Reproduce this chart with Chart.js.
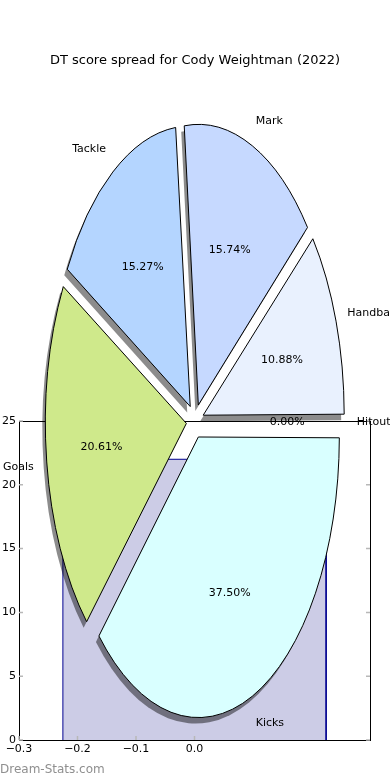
<!DOCTYPE html>
<html lang="en">
<head>
<meta charset="UTF-8">
<title>DT score spread for Cody Weightman (2022)</title>
<script src="https://cdn.jsdelivr.net/npm/chart.js"></script>
<style>
  body { margin: 0; background: #fff; }
  #wrap { position: relative; width: 390px; height: 780px; }
  #wrap canvas { position: absolute; left: 0; top: 0; }
  #pieChart { pointer-events: none; }
  .mark { position: absolute; left: 0; top: 762px; font: 12px "DejaVu Sans", sans-serif; color: #8f8f8f; }
</style>
</head>
<body>
<div id="wrap">
  <canvas id="histChart" width="390" height="780"></canvas>
  <canvas id="pieChart" width="390" height="780"></canvas>
  <div class="mark">Dream-Stats.com</div>
</div>
<script>
// pie slices, clockwise from 3 o'clock
const sliceLabels = ['Hitout', 'Kicks', 'Goals', 'Tackle', 'Mark', 'Handball'];
const slicePercents = [0, 37.5, 20.61, 15.27, 15.74, 10.88];

// background histogram
const histEdges = [-0.225, 0.225];
const histHeights = [22];
const markerX = [-0.2];
const markerTop = [25];

const xTickValues = [-0.3, -0.2, -0.1, 0.0];
const yTickValues = [0, 5, 10, 15, 20, 25];
const chartTitle = 'DT score spread for Cody Weightman (2022)';

// looks
const sliceColors = ['#ffd9d9', '#d9ffff', '#cfe98b', '#b4d5ff', '#c6d9ff', '#e9f1fe'];
const R = 141;        // horizontal pie radius
const STRETCH = 1.99; // pie is drawn on a non-square axes
const EXPLODE = 8.7;  // px

Chart.defaults.font.family = '"DejaVu Sans", sans-serif';
Chart.defaults.font.size = 11;
Chart.defaults.color = '#000';

const fmt = v => (v < -1e-9 ? '\u2212' : '') + Math.abs(v).toFixed(1);

// step outline of the histogram
const histPoints = [{ x: histEdges[0], y: 0 }];
histHeights.forEach((h, i) => {
  histPoints.push({ x: histEdges[i], y: h });
  histPoints.push({ x: histEdges[i + 1], y: h });
});
histPoints.push({ x: histEdges[histEdges.length - 1], y: 0 });

const markerPoints = [];
markerX.forEach((x, i) => {
  markerPoints.push({ x: x, y: 0 }, { x: x, y: markerTop[i] });
});

const innerTicks = {
  id: 'innerTicks',
  afterDatasetsDraw(chart) {
    const { ctx, chartArea: a, scales: { x, y } } = chart;
    ctx.save();
    ctx.strokeStyle = '#b8b8b8';
    ctx.lineWidth = 1.5;
    ctx.beginPath();
    xTickValues.forEach(v => {
      const px = x.getPixelForValue(v);
      ctx.moveTo(px, a.bottom);
      ctx.lineTo(px, a.bottom - 4);
    });
    yTickValues.forEach(v => {
      const py = y.getPixelForValue(v);
      ctx.moveTo(a.left, py); ctx.lineTo(a.left + 4, py);
      ctx.moveTo(a.right, py); ctx.lineTo(a.right - 4, py);
    });
    ctx.stroke();
    ctx.restore();
  }
};

new Chart(document.getElementById('histChart'), {
  type: 'line',
  data: {
    datasets: [{
      data: histPoints,
      borderColor: '#000090',
      backgroundColor: '#ccccE6',
      borderWidth: 1,
      fill: 'origin',
      pointRadius: 0,
      tension: 0
    }, {
      data: markerPoints,
      borderColor: '#aaaaaa',
      borderDash: [1, 2],
      borderWidth: 1,
      pointRadius: 0,
      fill: false
    }]
  },
  options: {
    responsive: false,
    animation: false,
    events: [],
    layout: { padding: { top: 421, right: 20, left: 0, bottom: 0 } },
    plugins: { legend: { display: false }, tooltip: { enabled: false } },
    scales: {
      x: {
        type: 'linear', position: 'bottom', min: -0.3, max: 0.3,
        afterBuildTicks: s => { s.ticks = xTickValues.map(v => ({ value: v })); },
        afterFit: s => { s.height = 40; },
        grid: { display: false, drawTicks: false },
        border: { color: '#000', width: 1 },
        ticks: { padding: 3, callback: v => fmt(v), maxRotation: 0 }
      },
      y: {
        type: 'linear', position: 'left', min: 0, max: 25,
        afterBuildTicks: s => { s.ticks = yTickValues.map(v => ({ value: v })); },
        afterFit: s => { s.width = 19; },
        grid: { display: false, drawTicks: false },
        border: { color: '#000', width: 1 },
        ticks: { padding: 3 }
      },
      xTop: {
        axis: 'x', type: 'linear', position: 'top', min: -0.3, max: 0.3,
        afterFit: s => { s.height = 0; },
        grid: { display: false, drawTicks: false },
        border: { color: '#000', width: 1 },
        ticks: { display: false }
      },
      yRight: {
        axis: 'y', type: 'linear', position: 'right', min: 0, max: 25,
        afterFit: s => { s.width = 0; },
        grid: { display: false, drawTicks: false },
        border: { color: '#000', width: 1 },
        ticks: { display: false }
      }
    }
  },
  plugins: [innerTicks]
});

// stretch the pie vertically, add shadows, then write the labels
const stretchPie = {
  id: 'stretchPie',
  beforeDatasetsDraw(chart) {
    const ctx = chart.ctx;
    const arcs = chart.getDatasetMeta(0).data;
    const cx = arcs[0].x, cy = arcs[0].y;
    // chart.js grows small exploded slices a little; undo that
    arcs.forEach(a => {
      const fix = 1 - Math.sin(Math.min(Math.PI, a.circumference || 0));
      a.outerRadius = R - EXPLODE * fix;
    });
    ctx.save();
    ctx.translate(cx, cy);
    ctx.scale(1, STRETCH);
    ctx.translate(-cx, -cy);
    ctx.shadowColor = 'rgba(0,0,0,0.45)';
    ctx.shadowOffsetX = -3;
    ctx.shadowOffsetY = 6;
    // outlines: even width, no shadow
    const stroke = ctx.stroke;
    ctx.stroke = function () {
      this.save();
      this.setTransform(1, 0, 0, 1, 0, 0);
      this.shadowColor = 'rgba(0,0,0,0)';
      stroke.apply(this, arguments);
      this.restore();
    };
  },
  afterDatasetsDraw(chart) {
    const ctx = chart.ctx;
    delete ctx.stroke;
    ctx.restore();

    const arcs = chart.getDatasetMeta(0).data;
    ctx.save();
    ctx.fillStyle = '#000';
    ctx.font = '11px "DejaVu Sans", sans-serif';
    ctx.textBaseline = 'middle';
    arcs.forEach((a, i) => {
      const mid = (a.startAngle + a.endAngle) / 2;
      const c = Math.cos(mid), s = Math.sin(mid);
      const lr = EXPLODE + 1.1 * R, pr = EXPLODE + 0.6 * R;
      const nudge = c > 0 ? -2 : 1;
      ctx.textAlign = c > 0 ? 'left' : 'right';
      ctx.fillText(sliceLabels[i], a.x + lr * c + nudge, a.y + STRETCH * lr * s + 1);
      ctx.textAlign = 'center';
      ctx.fillText(slicePercents[i].toFixed(2) + '%', a.x + pr * c - 1, a.y + STRETCH * pr * s + 1);
    });
    ctx.font = '13px "DejaVu Sans", sans-serif';
    ctx.textAlign = 'center';
    ctx.fillText(chartTitle, 195, 61);
    ctx.restore();
  }
};

new Chart(document.getElementById('pieChart'), {
  type: 'pie',
  data: {
    labels: sliceLabels,
    datasets: [{
      data: slicePercents,
      backgroundColor: sliceColors,
      borderColor: '#000',
      borderWidth: 1,
      offset: EXPLODE * 4,
      hoverOffset: EXPLODE * 4
    }]
  },
  options: {
    responsive: false,
    animation: false,
    events: [],
    rotation: 90,
    radius: R,
    layout: { padding: { top: 62, bottom: 0, left: 0, right: 0 } },
    plugins: { legend: { display: false }, tooltip: { enabled: false } }
  },
  plugins: [stretchPie]
});
</script>
</body>
</html>
